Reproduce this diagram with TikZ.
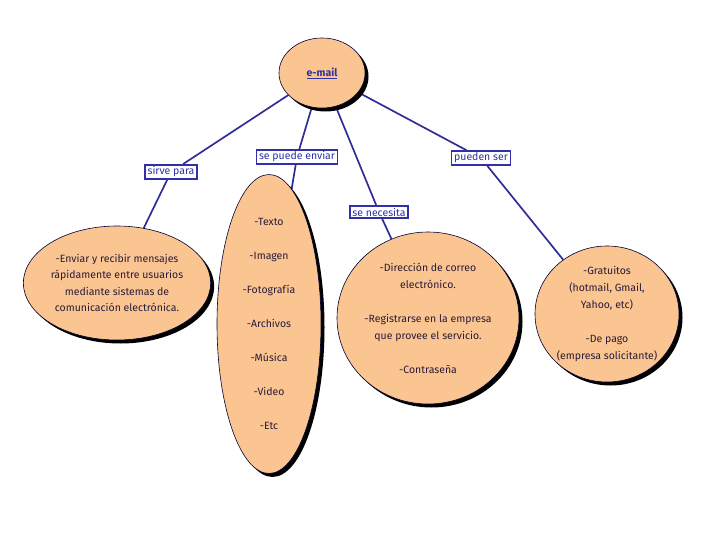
\documentclass[tikz,border=0pt]{standalone}
\usepackage{fontspec}
\setmainfont{Fira Sans}
\usetikzlibrary{shapes.geometric,shadows,backgrounds}
\definecolor{peach}{HTML}{FAC590}
\definecolor{linkblue}{HTML}{2E2E96}
\definecolor{txtcol}{HTML}{2A1A3A}
\definecolor{lblblue}{HTML}{3030A8}
\tikzset{
  bubble/.style={ellipse, draw=black!80!blue, line width=0.6pt, fill=peach, inner sep=0pt,
    drop shadow={shadow xshift=3.5pt, shadow yshift=-3.5pt, fill=black, opacity=1},
    text=txtcol, align=center, font=\fontsize{10.5}{16.5}\selectfont},
  lbl/.style={draw=lblblue, line width=1.5pt, fill=white, text=lblblue, inner xsep=2.5pt, inner ysep=2pt,
    font=\fontsize{10.5}{12}\selectfont},
  link/.style={draw=linkblue, line width=1.7pt}
}
\begin{document}
\begin{tikzpicture}[x=1pt,y=-1pt]
\useasboundingbox (0,0) rectangle (720,540);
\node[bubble, minimum width=86pt, minimum height=70pt, text=lblblue, font=\fontsize{10.5}{12}\selectfont\bfseries] (email) at (322,73) {\underline{e-mail}};
\node[lbl] (sirve) at (171,172) {sirve para};
\node[lbl] (enviar) at (297,157) {se puede enviar};
\node[lbl] (necesita) at (379,212) {se necesita};
\node[lbl] (pueden) at (481,158) {pueden ser};
\node[bubble, minimum width=158pt, minimum height=114pt] (usos) at (117,283)
 {-Enviar y recibir mensajes\\ rápidamente entre usuarios\\ mediante sistemas de\\ comunicación electrónica.};
\node[bubble, minimum width=104pt, minimum height=268pt, font=\fontsize{10.5}{34}\selectfont] (tipos) at (269,324)
 {-Texto\\-Imagen\\-Fotografía\\-Archivos\\-Música\\-Video\\-Etc};
\node[bubble, minimum width=182pt, minimum height=172pt, font=\fontsize{10.5}{17}\selectfont] (req) at (428,318)
 {-Dirección de correo\\ electrónico.\\[17pt] -Registrarse en la empresa\\ que provee el servicio.\\[17pt] -Contraseña};
\node[bubble, minimum width=144pt, minimum height=136pt, font=\fontsize{10.5}{17}\selectfont] (clases) at (607,314)
 {-Gratuitos\\ (hotmail, Gmail,\\ Yahoo, etc)\\[17pt] -De pago\\ (empresa solicitante)};
\begin{scope}[on background layer]
\draw[link] (email) -- (sirve);
\draw[link] (sirve) -- (usos);
\draw[link] (email) -- (enviar);
\draw[link] (enviar) -- (tipos);
\draw[link] (email) -- (necesita);
\draw[link] (necesita) -- (req);
\draw[link] (email) -- (pueden);
\draw[link] (pueden) -- (clases);
\end{scope}
\end{tikzpicture}
\end{document}
